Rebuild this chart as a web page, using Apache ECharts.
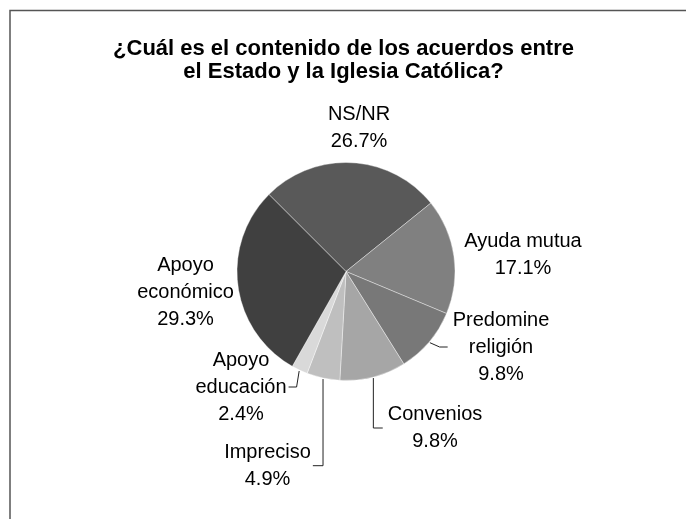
<!DOCTYPE html>
<html>
<head>
<meta charset="utf-8">
<script src="https://cdn.jsdelivr.net/npm/echarts@6/dist/echarts.min.js"></script>
<style>html,body{margin:0;padding:0;background:#fff}#c{width:686px;height:519px}</style>
</head>
<body>
<div id="c"></div>
<script>
// ---- data ----
const categories = ['NS/NR', 'Ayuda mutua', 'Predomine\nreligión', 'Convenios', 'Impreciso', 'Apoyo\neducación', 'Apoyo\neconómico'];
const values = [26.7, 17.1, 9.8, 9.8, 4.9, 2.4, 29.3];
const titleText = '¿Cuál es el contenido de los acuerdos entre\nel Estado y la Iglesia Católica?';

// ---- styling / layout ----
const colors = ['#595959', '#808080', '#787878', '#a6a6a6', '#bfbfbf', '#d9d9d9', '#404040'];
const CX = 346, CY = 271.5, R = 109;
// label block centre offsets from pie centre
const labelOffsets = [[13, -144], [177, -16.5], [155, 75.5], [89, 156.5], [-78.5, 194.2], [-105, 115.5], [-160.5, 20.8]];
// leader line type per slice: null = none
const lineTypes = [null, null, 'elbow', 'vertical', 'vertical', 'elbow', null];

const total = values.reduce((a, b) => a + b, 0);
function midAngle(i) {
  let cum = 0;
  for (let k = 0; k < i; k++) cum += values[k];
  return (-45 + (cum + values[i] / 2) / total * 360) * Math.PI / 180;
}

const chart = echarts.init(document.getElementById('c'));
const FONT = '"Liberation Sans", Arial, sans-serif';

chart.setOption({
  animation: false,
  backgroundColor: '#fff',
  graphic: [{
    type: 'rect',
    shape: { x: 10, y: 10.5, width: 720, height: 560 },
    style: { fill: null, stroke: '#555', lineWidth: 1.5 },
    silent: true
  }, {
    type: 'text',
    x: 343.5,
    y: 37,
    silent: true,
    style: {
      text: titleText,
      align: 'center',
      verticalAlign: 'top',
      fontFamily: FONT,
      fontSize: 22,
      fontWeight: 'bold',
      lineHeight: 23,
      fill: '#000'
    }
  }],
  series: [{
    type: 'pie',
    center: [CX, CY],
    radius: R,
    startAngle: 135,
    clockwise: true,
    avoidLabelOverlap: false,
    emphasis: { disabled: true },
    itemStyle: { borderColor: 'rgba(255,255,255,0.55)', borderWidth: 0.7 },
    label: {
      show: true,
      position: 'outside',
      fontFamily: FONT,
      fontSize: 20,
      lineHeight: 27,
      color: '#000',
      formatter: p => p.name + '\n' + p.value.toFixed(1) + '%'
    },
    labelLine: { show: true, lineStyle: { color: '#222', width: 1 } },
    labelLayout: function (params) {
      const i = params.dataIndex;
      const x = CX + labelOffsets[i][0];
      const y = CY + labelOffsets[i][1];
      const out = { x: x, y: y, align: 'center', verticalAlign: 'middle', hideOverlap: false, moveOverlap: false };
      const t = lineTypes[i];
      if (t) {
        const a = midAngle(i);
        const p0 = [CX + (R + 1) * Math.sin(a), CY - (R + 1) * Math.cos(a)];
        const w = params.labelRect.width;
        const right = x > p0[0];
        const p2 = right ? [x - w / 2 - 5, y] : [x + w / 2 + 2, y];
        const p1 = t === 'vertical' ? [p0[0], y] : [p2[0] + (right ? -8 : 8), y];
        out.labelLinePoints = [p0, p1, p2];
      }
      return out;
    },
    data: categories.map((c, i) => ({
      name: c,
      value: values[i],
      itemStyle: { color: colors[i] },
      labelLine: { show: !!lineTypes[i] }
    }))
  }]
});
</script>
</body>
</html>
